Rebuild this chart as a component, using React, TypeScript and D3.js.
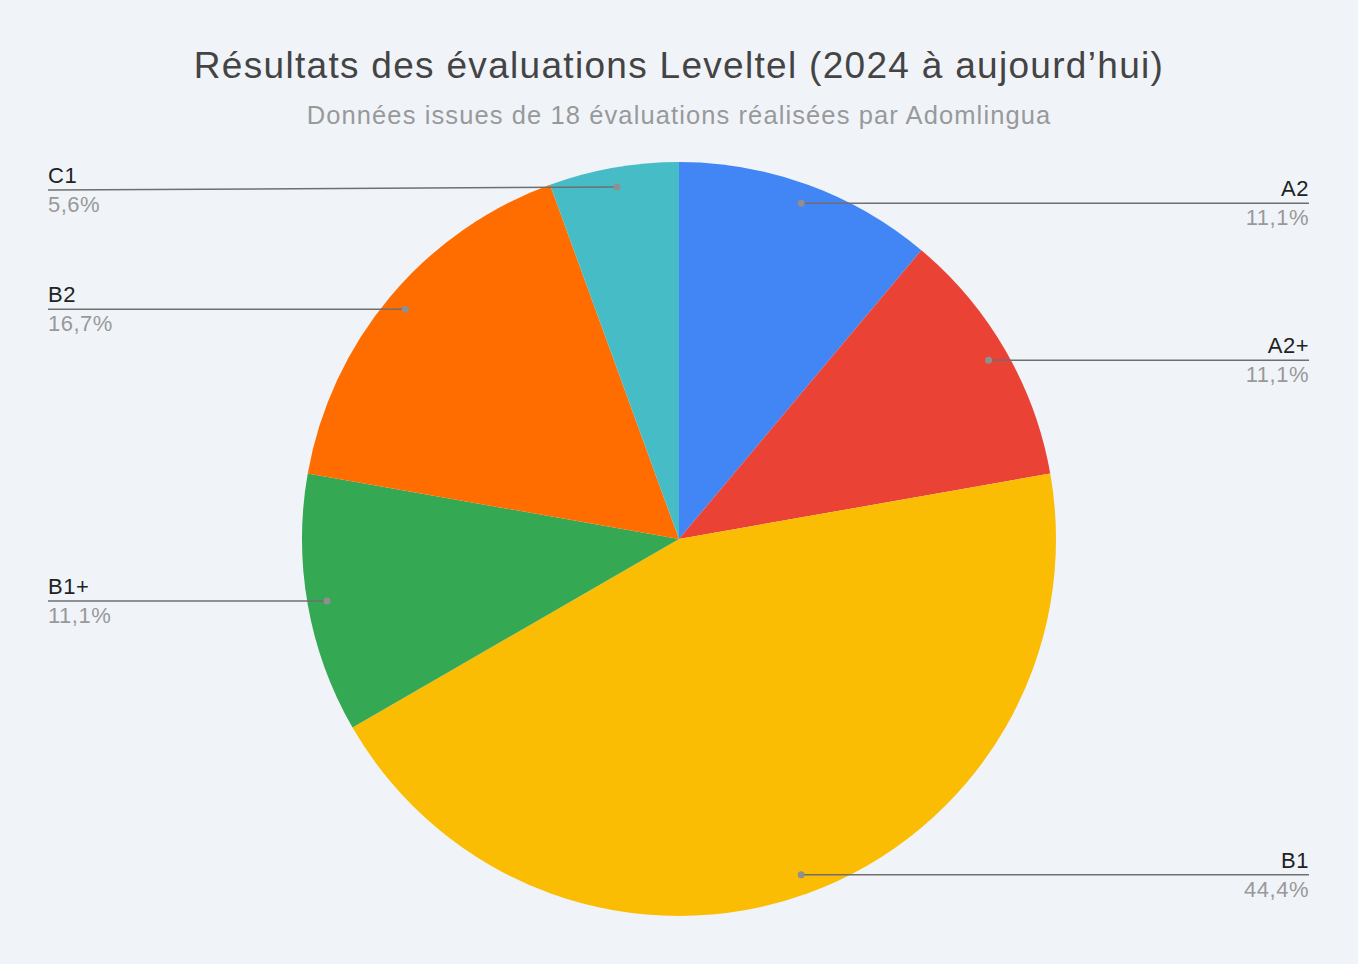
import { useEffect, useRef } from 'react';
import * as d3 from 'd3';

const categories = ['A2', 'A2+', 'B1', 'B1+', 'B2', 'C1'];
const counts = [2, 2, 8, 2, 3, 1];
const colors = ['#4285f4', '#ea4335', '#fbbc04', '#34a853', '#ff6d01', '#46bdc6'];
const title = 'Résultats des évaluations Leveltel (2024 à aujourd’hui)';
const subtitle = 'Données issues de 18 évaluations réalisées par Adomlingua';

type Slice = { name: string; value: number; color: string };

export default function App() {
  const ref = useRef<SVGSVGElement | null>(null);

  useEffect(() => {
    if (!ref.current) return;
    const width = 1358;
    const height = 964;
    const cx = 679;
    const cy = 539;
    const radius = 377;
    const font = '"Liberation Sans", Arial, sans-serif';

    const svg = d3.select(ref.current);
    svg.selectAll('*').remove();
    svg.attr('width', width).attr('height', height);

    svg.append('rect').attr('width', width).attr('height', height).attr('fill', '#f0f4f9');

    svg
      .append('text')
      .attr('x', width / 2)
      .attr('y', 78)
      .attr('text-anchor', 'middle')
      .attr('font-family', font)
      .attr('font-size', 37)
      .attr('letter-spacing', 1.3)
      .attr('fill', '#444')
      .text(title);

    svg
      .append('text')
      .attr('x', width / 2)
      .attr('y', 124)
      .attr('text-anchor', 'middle')
      .attr('font-family', font)
      .attr('font-size', 25.5)
      .attr('letter-spacing', 1.1)
      .attr('fill', '#999')
      .text(subtitle);

    const data: Slice[] = categories.map((name, i) => ({ name, value: counts[i], color: colors[i] }));
    const total = d3.sum(counts);
    const fmt = (v: number) => (Math.round((v / total) * 1000) / 10).toFixed(1).replace('.', ',') + '%';

    const pie = d3.pie<Slice>().value(d => d.value).sort(null);
    const arcs = pie(data);
    const arc = d3.arc<d3.PieArcDatum<Slice>>().innerRadius(0).outerRadius(radius);
    const dotArc = d3.arc<d3.PieArcDatum<Slice>>().innerRadius(radius * 0.948).outerRadius(radius * 0.948);

    const g = svg.append('g').attr('transform', `translate(${cx},${cy})`);

    g.selectAll('path.slice')
      .data(arcs)
      .join('path')
      .attr('class', 'slice')
      .attr('d', arc)
      .attr('fill', d => d.data.color);

    const leftX = 48 - cx;
    const rightX = 1309 - cx;
    const minY = 190 - cy;

    const labels = g.selectAll('g.label').data(arcs).join('g').attr('class', 'label');

    labels.each(function (d) {
      const [px, py] = dotArc.centroid(d);
      const mid = (d.startAngle + d.endAngle) / 2;
      const right = mid < Math.PI;
      const ly = Math.max(py, minY);
      const lx = right ? rightX : leftX;
      const sel = d3.select(this);
      sel
        .append('line')
        .attr('x1', px)
        .attr('y1', py)
        .attr('x2', lx)
        .attr('y2', ly)
        .attr('stroke', '#6f6f6f')
        .attr('stroke-width', 1.5);
      sel.append('circle').attr('cx', px).attr('cy', py).attr('r', 3.5).attr('fill', '#8f8f8f');
      sel
        .append('text')
        .attr('x', lx)
        .attr('y', ly - 7)
        .attr('text-anchor', right ? 'end' : 'start')
        .attr('font-family', font)
        .attr('font-size', 22)
        .attr('letter-spacing', 0.5)
        .attr('fill', '#222')
        .text(d.data.name);
      sel
        .append('text')
        .attr('x', lx)
        .attr('y', ly + 22)
        .attr('text-anchor', right ? 'end' : 'start')
        .attr('font-family', font)
        .attr('font-size', 22)
        .attr('letter-spacing', 0.5)
        .attr('fill', '#999')
        .text(fmt(d.data.value));
    });
  }, []);

  return <svg ref={ref} style={{ position: 'absolute', left: 0, top: 0, display: 'block' }} />;
}
